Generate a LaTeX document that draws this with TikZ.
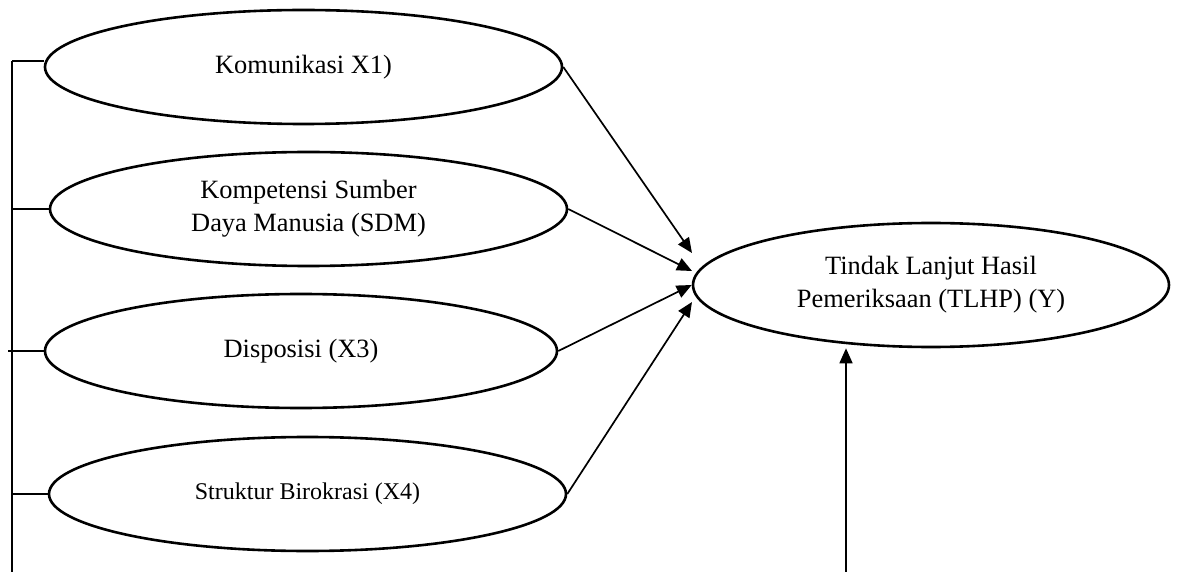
\documentclass[tikz,border=0pt]{standalone}
\usepackage{fontspec}
\setmainfont{Liberation Serif}
\usetikzlibrary{shapes.geometric,arrows.meta}
\begin{document}
\begin{tikzpicture}[x=0.5pt,y=-0.5pt,
  var/.style={ellipse,draw,line width=1.3pt,inner sep=0pt,align=center,
    minimum width=258.5pt,minimum height=57pt,font=\fontsize{13.2}{16.5}\selectfont},
  arr/.style={line width=0.85pt,-{Triangle[length=7.5pt,width=6.5pt]}},
  tick/.style={line width=0.7pt},
  brk/.style={line width=1pt}]
\useasboundingbox (0,0) rectangle (1178,572);
\node[var] (E1) at (303.5,67) {Komunikasi X1)};
\node[var] (E2) at (308.5,209) {Kompetensi Sumber\\Daya Manusia (SDM)};
\node[var,minimum width=256pt] (E3) at (301,351) {Disposisi (X3)};
\node[var,font=\fontsize{12}{15}\selectfont] (E4) at (307.5,494) {Struktur Birokrasi (X4)};
\node[var,minimum width=238pt,minimum height=62pt] (Y) at (931,285) {Tindak Lanjut Hasil\\Pemeriksaan (TLHP) (Y)};
% bracket on the left
\coordinate (bl) at (12,572);
\coordinate (t1) at (12,61);
\draw[brk] (t1) -- (bl);
\draw[tick] (t1) -- (E1.west |- t1);
\draw[tick] (bl |- E2.west) -- (E2.west);
\draw[tick] ([xshift=-2pt]bl |- E3.west) -- (E3.west);
\draw[tick] (bl |- E4.west) -- (E4.west);
% arrows into Y
\coordinate (a1) at (692,253);
\coordinate (a2) at (692,271);
\coordinate (a4) at (692,302);
\draw[arr] (E1.east) -- (a1);
\draw[arr] (E2.east) -- (a2);
\draw[arr] (E3.east) -- (Y.west);
\draw[arr] (E4.east) -- (a4);
% arrow from below
\coordinate (b0) at (846,572);
\draw[arr] (b0) -- (b0 |- Y.south);
\end{tikzpicture}
\end{document}
